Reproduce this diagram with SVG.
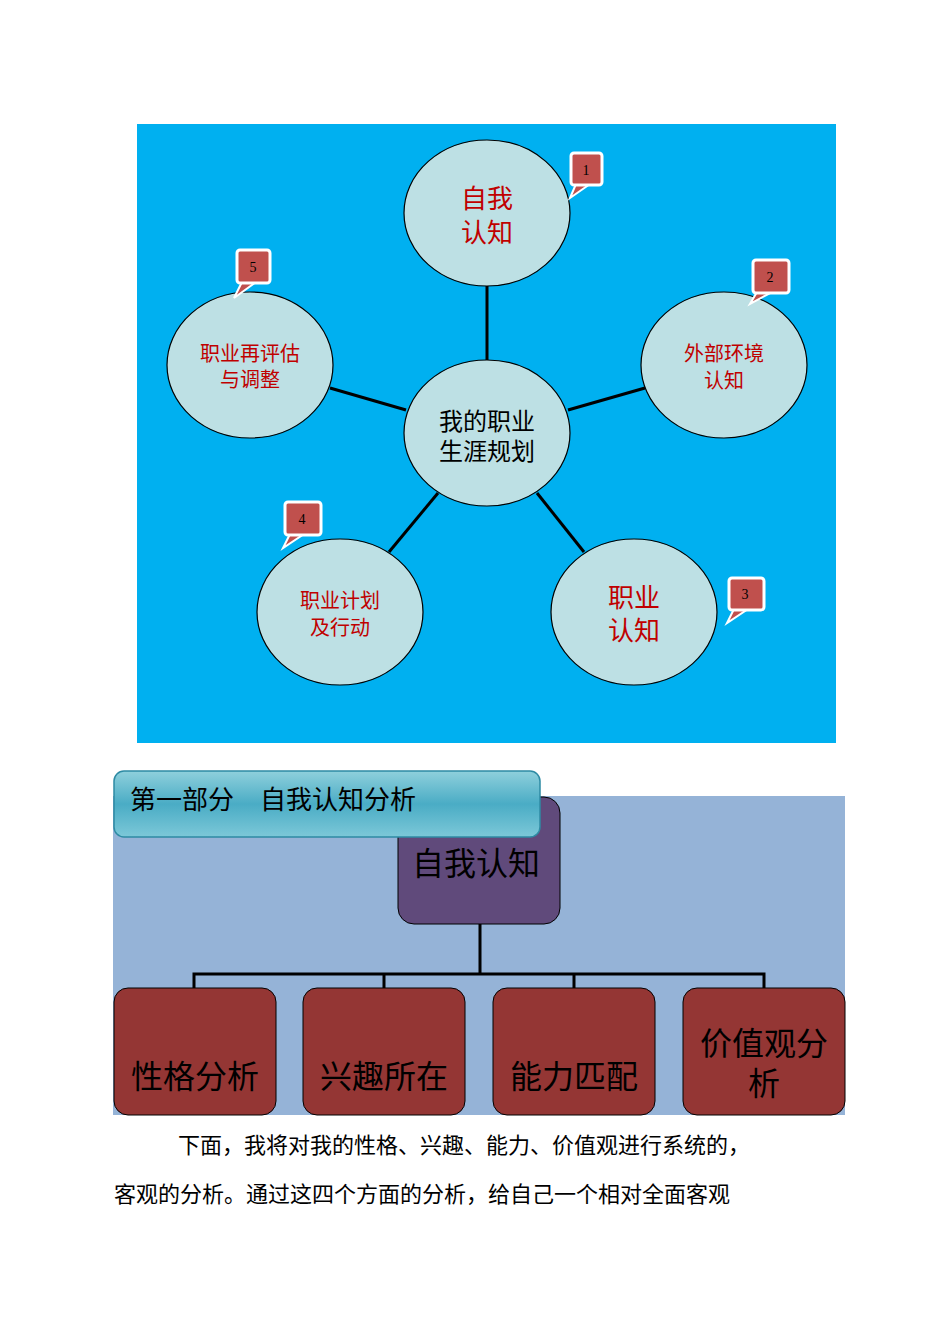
<svg xmlns="http://www.w3.org/2000/svg" width="950" height="1344" viewBox="0 0 950 1344">
<style>
.t{font-family:"Liberation Serif","Noto Sans CJK SC",serif}
.e{fill:#bde0e4;stroke:#000;stroke-width:1.2}
.red{fill:#c00000}
.tag rect{fill:#c0504d;stroke:#fff;stroke-width:3}
.tag path{fill:#c0504d;stroke:#fff;stroke-width:2}
.tag text{font-family:"Liberation Serif",serif;font-size:14px;text-anchor:middle}
.rb{fill:#943634;stroke:#000;stroke-width:1}
</style>
<defs>
<linearGradient id="g" x1="0" y1="0" x2="0" y2="1">
<stop offset="0" stop-color="#8fd0dc"/><stop offset="0.5" stop-color="#4aacc5"/><stop offset="1" stop-color="#7cc8d8"/>
</linearGradient>
</defs>
<rect width="950" height="1344" fill="#fff"/>
<rect x="137" y="124" width="699" height="619" fill="#00b0f0"/>
<g id="connectors" stroke="#000" stroke-width="3">
<line x1="487" y1="286" x2="487" y2="360"/>
<line x1="568" y1="410" x2="645" y2="388"/>
<line x1="406" y1="410" x2="330" y2="388"/>
<line x1="438" y1="493" x2="389" y2="552"/>
<line x1="537" y1="493" x2="584" y2="552"/>
</g>
<g id="center"><ellipse class="e" cx="487" cy="433" rx="83" ry="73"/>
<text class="t" x="487" y="430" font-size="24" text-anchor="middle">我的职业</text>
<text class="t" x="487" y="460" font-size="24" text-anchor="middle">生涯规划</text></g>
<g id="n1"><ellipse class="e" cx="487" cy="213" rx="83" ry="73"/>
<text class="t red" x="487" y="208" font-size="26" text-anchor="middle">自我</text>
<text class="t red" x="487" y="242" font-size="26" text-anchor="middle">认知</text></g>
<g id="n2"><ellipse class="e" cx="724" cy="365" rx="83" ry="73"/>
<text class="t red" x="724" y="361" font-size="20" text-anchor="middle">外部环境</text>
<text class="t red" x="724" y="388" font-size="20" text-anchor="middle">认知</text></g>
<g id="n3"><ellipse class="e" cx="634" cy="612" rx="83" ry="73"/>
<text class="t red" x="634" y="607" font-size="26" text-anchor="middle">职业</text>
<text class="t red" x="634" y="640" font-size="26" text-anchor="middle">认知</text></g>
<g id="n4"><ellipse class="e" cx="340" cy="612" rx="83" ry="73"/>
<text class="t red" x="340" y="608" font-size="20" text-anchor="middle">职业计划</text>
<text class="t red" x="340" y="635" font-size="20" text-anchor="middle">及行动</text></g>
<g id="n5"><ellipse class="e" cx="250" cy="365" rx="83" ry="73"/>
<text class="t red" x="250" y="361" font-size="20" text-anchor="middle">职业再评估</text>
<text class="t red" x="250" y="387" font-size="20" text-anchor="middle">与调整</text></g>
<g class="tag" id="tag1"><path d="M576 184 L570 198 L590 184Z"/><rect x="571" y="153" width="31" height="32" rx="3"/><text x="586" y="175">1</text></g>
<g class="tag" id="tag2"><path d="M757 292 L750 304 L772 292Z"/><rect x="753" y="260" width="36" height="33" rx="3"/><text x="770" y="282">2</text></g>
<g class="tag" id="tag3"><path d="M734 609 L727 623 L748 609Z"/><rect x="729" y="578" width="35" height="32" rx="3"/><text x="745" y="599">3</text></g>
<g class="tag" id="tag4"><path d="M290 534 L283 548 L304 534Z"/><rect x="285" y="502" width="36" height="33" rx="3"/><text x="302" y="524">4</text></g>
<g class="tag" id="tag5"><path d="M242 282 L234 298 L256 282Z"/><rect x="237" y="250" width="33" height="33" rx="3"/><text x="253" y="272">5</text></g>

<rect x="113" y="796" width="732" height="319" fill="#95b3d7"/>
<g id="tree" stroke="#000" stroke-width="3" fill="none">
<path d="M480 924 V974 M194 988 V974 H764 V988 M384 974 V988 M574 974 V988"/>
</g>
<g id="root"><rect x="398" y="797" width="162" height="127" rx="16" fill="#604a7b" stroke="#000"/>
<text class="t" x="476" y="875" font-size="32" text-anchor="middle">自我认知</text></g>
<g id="title"><rect x="114" y="771" width="426" height="66" rx="10" fill="url(#g)" stroke="#2e8ba4" stroke-width="1.5"/>
<text class="t" x="130" y="809" font-size="26" xml:space="preserve">第一部分    自我认知分析</text></g>
<g id="b1"><rect class="rb" x="114" y="988" width="162" height="127" rx="14"/><text class="t" x="195" y="1088" font-size="32" text-anchor="middle">性格分析</text></g>
<g id="b2"><rect class="rb" x="303" y="988" width="162" height="127" rx="14"/><text class="t" x="384" y="1088" font-size="32" text-anchor="middle">兴趣所在</text></g>
<g id="b3"><rect class="rb" x="493" y="988" width="162" height="127" rx="14"/><text class="t" x="574" y="1088" font-size="32" text-anchor="middle">能力匹配</text></g>
<g id="b4"><rect class="rb" x="683" y="988" width="162" height="127" rx="14"/><text class="t" x="764" y="1055" font-size="32" text-anchor="middle">价值观分</text><text class="t" x="764" y="1095" font-size="32" text-anchor="middle">析</text></g>
<text class="t" x="178" y="1153" font-size="22">下面，我将对我的性格、兴趣、能力、价值观进行系统的，</text>
<text class="t" x="114" y="1202" font-size="22">客观的分析。通过这四个方面的分析，给自己一个相对全面客观</text>
</svg>
